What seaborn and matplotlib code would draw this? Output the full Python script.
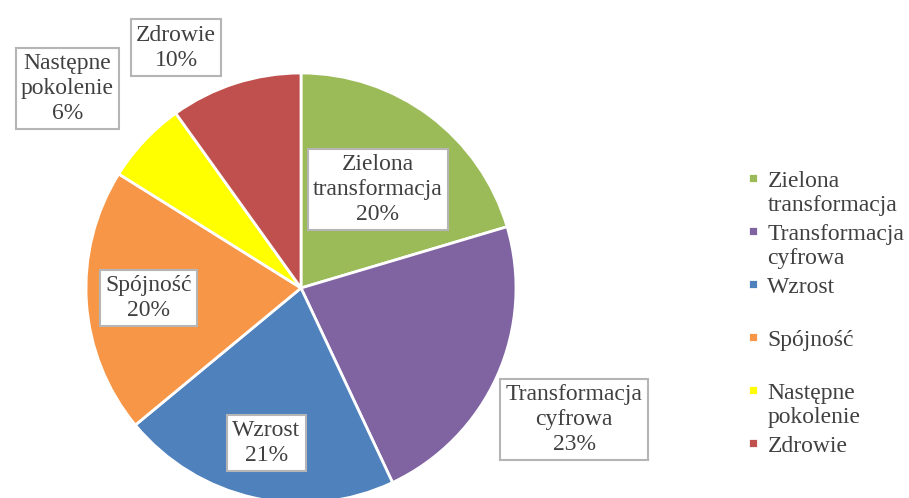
import numpy as np
import matplotlib
matplotlib.use("Agg")
import matplotlib.pyplot as plt
import seaborn as sns
from matplotlib.patches import Rectangle
from matplotlib.legend_handler import HandlerPatch

# ---------------------------------
# Data
# ---------------------------------

categories = ["Zielona transformacja", "Transformacja cyfrowa", "Wzrost",
              "Spójność", "Następne pokolenie", "Zdrowie"]
shares = [20.4, 22.6, 21.0, 19.9, 6.2, 9.9]
label_names = ["Zielona\ntransformacja", "Transformacja\ncyfrowa", "Wzrost",
               "Spójność", "Następne\npokolenie", "Zdrowie"]
legend_names = ["Zielona\ntransformacja", "Transformacja\ncyfrowa", "Wzrost\n ",
                "Spójność\n ", "Następne\npokolenie", "Zdrowie\n "]
colors = ["#9BBB59", "#8064A2", "#4F81BD", "#F79646", "#FFFF00", "#C0504D"]

# label layout (radius in pie radii, angle nudge in degrees)
label_r = [0.58, 1.41, 0.74, 0.71, 1.43, 1.26]
label_nudge = [-1.3, -1.6, 0, 0, 2.7, 9.6]

# ---------------------------------
# Style
# ---------------------------------

sns.set_theme(style="white")
plt.rcParams["font.family"] = ["Liberation Serif", "DejaVu Serif"]
text_col = "#404040"
fs = 17

fig = plt.figure(figsize=(9.09, 4.98), dpi=100)
W, H = 909, 498
cx, cy, R = 301, 288, 215
ax = fig.add_axes([(cx - R) / W, (H - cy - R) / H, 2 * R / W, 2 * R / H])

wedges, _ = ax.pie(shares, colors=colors, startangle=90, counterclock=False,
                   wedgeprops=dict(edgecolor="white", linewidth=2))
ax.set_xlim(-1, 1)
ax.set_ylim(-1, 1)
ax.set_aspect("equal")
ax.axis("off")

# ---------------------------------
# Data labels
# ---------------------------------

for w, name, v, r, nd in zip(wedges, label_names, shares, label_r, label_nudge):
    mid = np.deg2rad((w.theta1 + w.theta2) / 2 + nd)
    ax.text(r * np.cos(mid), r * np.sin(mid), f"{name}\n{round(v):.0f}%",
            ha="center", va="center", fontsize=fs, color=text_col,
            linespacing=1.25, clip_on=False,
            bbox=dict(boxstyle="square,pad=0.22", facecolor="white",
                      edgecolor="#b5b5b5", linewidth=1.5))

# ---------------------------------
# Legend
# ---------------------------------

def top_square(legend, orig_handle, xdescent, ydescent, width, height, fontsize):
    s = 0.42 * fontsize
    return Rectangle((-xdescent + width - s, -ydescent + height / 2 - s / 2 + 0.66 * fontsize), s, s)

leg = ax.legend(wedges, legend_names, loc="center left",
                bbox_to_anchor=(732 / W, 1 - 326 / H), bbox_transform=fig.transFigure,
                frameon=False, fontsize=fs, handlelength=0.6, handleheight=0.6,
                handletextpad=0.4, labelspacing=0.33, borderpad=0,
                handler_map={type(wedges[0]): HandlerPatch(patch_func=top_square)})
for t in leg.get_texts():
    t.set_color(text_col)
    t.set_linespacing(1.2)

fig.savefig("out.png", dpi=100)
